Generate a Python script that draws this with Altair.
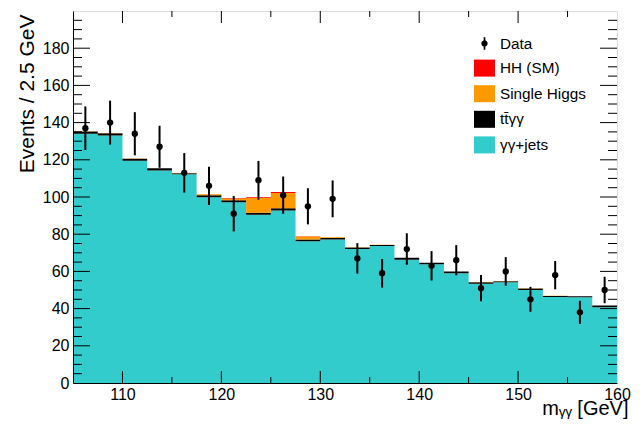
import altair as alt
import pandas as pd

# ---------------- data ----------------
bin_lo = [105.0, 107.5, 110.0, 112.5, 115.0, 117.5, 120.0, 122.5, 125.0, 127.5, 130.0,
          132.5, 135.0, 137.5, 140.0, 142.5, 145.0, 147.5, 150.0, 152.5, 155.0, 157.5]
bin_hi = [107.5, 110.0, 112.5, 115.0, 117.5, 120.0, 122.5, 125.0, 127.5, 130.0, 132.5,
          135.0, 137.5, 140.0, 142.5, 145.0, 147.5, 150.0, 152.5, 155.0, 157.5, 160.0]

gg_jets = [134.0, 133.1, 119.5, 114.3, 112.2, 99.9, 97.2, 90.5, 92.8, 76.2, 77.1,
           72.0, 73.6, 66.3, 63.8, 59.0, 53.4, 54.1, 50.0, 46.2, 46.1, 40.7]
tt_gg = [1.2, 1.2, 1.1, 1.1, 0.6, 1.0, 1.0, 1.0, 1.1, 1.0, 0.8,
         0.9, 0.6, 1.0, 0.8, 0.9, 0.8, 0.6, 0.8, 0.6, 0.5, 0.9]
single_higgs = [0.1, 0.1, 0.1, 0.1, 0.1, 0.6, 1.0, 8.0, 8.2, 1.6, 0.4,
                0.1, 0.1, 0.1, 0.1, 0.1, 0.1, 0.1, 0.1, 0.1, 0.1, 0.1]
hh_sm = [0.0, 0.0, 0.0, 0.0, 0.0, 0.0, 0.3, 0.4, 0.6, 0.1, 0.0,
         0.0, 0.0, 0.0, 0.0, 0.0, 0.0, 0.0, 0.0, 0.0, 0.0, 0.0]

data_counts = [137, 140, 134, 127, 113, 106, 91, 109, 101, 95, 99,
               67, 59, 72, 63, 66, 51, 60, 45, 58, 38, 50]
data_err = [11.7, 11.8, 11.6, 11.3, 10.6, 10.3, 9.5, 10.4, 10.0, 9.7, 9.9,
            8.2, 7.7, 8.5, 7.9, 8.1, 7.1, 7.7, 6.7, 7.6, 6.2, 7.1]

x_labels = [110, 120, 130, 140, 150, 160]
x_minor = [115, 125, 135, 145, 155]
x_major = [110, 120, 130, 140, 150]
y_labels = [0, 20, 40, 60, 80, 100, 120, 140, 160, 180]
y_major = [20, 40, 60, 80, 100, 120, 140, 160, 180]
y_minor = [5, 10, 15, 25, 30, 35, 45, 50, 55, 65, 70, 75, 85, 90, 95, 105, 110, 115,
           125, 130, 135, 145, 150, 155, 165, 170, 175, 185, 190, 195]

comp_names = ["Data", "HH (SM)", "Single Higgs", "tt\u0304γγ", "γγ+jets"]
comp_colors = ["#000000", "#ff0000", "#ff9900", "#000000", "#33cccc"]

# ---------------- tables ----------------
edges = bin_lo + [bin_hi[-1]]
stack_components = [("γγ+jets", gg_jets, 0), (comp_names[3], tt_gg, 1),
                    ("Single Higgs", single_higgs, 2), ("HH (SM)", hh_sm, 3)]
rows = []
for name, vals, order in stack_components:
    ext = vals + [vals[-1]]
    for x, v in zip(edges, ext):
        rows.append({"x": x, "val": v, "comp": name, "ord": order})
stack_df = pd.DataFrame(rows)

data_df = pd.DataFrame({"lo": bin_lo, "hi": bin_hi, "n": data_counts, "err": data_err})
data_df["xc"] = (data_df["lo"] + data_df["hi"]) / 2
data_df["ylo"] = data_df["n"] - data_df["err"]
data_df["yhi"] = data_df["n"] + data_df["err"]

legend_df = pd.DataFrame({"comp": comp_names})

W, H = 544, 372
FONT = "Liberation Sans"

xscale = alt.Scale(domain=[105, 160], nice=False, zero=False)
yscale = alt.Scale(domain=[0, 200], nice=False, zero=True)

color_scale = alt.Scale(domain=comp_names, range=comp_colors)
rect_path = "M-1,-0.81H1V0.81H-1Z"
data_path = ("M-0.08,-0.6H0.08V0.6H-0.08Z "
             "M0.3,0A0.3,0.3 0 1,1 -0.3,0A0.3,0.3 0 1,1 0.3,0Z")
shape_scale = alt.Scale(domain=comp_names,
                        range=[data_path, rect_path, rect_path, rect_path, rect_path])

xaxis = alt.Axis(values=x_labels, format="d", labelFontSize=16, labelPadding=3,
                 labelFont=FONT, labelColor="black", labelFlush=False, labelOverlap=False,
                 ticks=False, grid=False, domain=True, domainColor="black", domainWidth=1,
                 title="mᵧᵧ [GeV]", titleFont=FONT, titleFontSize=20,
                 titleFontWeight="normal", titleColor="black",
                 titleX=555, titleY=31.5, titleAlign="right", titleBaseline="alphabetic",
                 zindex=1)
yaxis = alt.Axis(values=y_labels, format="d", labelFontSize=16, labelPadding=4,
                 labelFont=FONT, labelColor="black", labelFlush=False, labelOverlap=False,
                 ticks=False, grid=False, domain=True, domainColor="black", domainWidth=1,
                 title="Events / 2.5 GeV", titleFont=FONT, titleFontSize=21,
                 titleFontWeight="normal", titleColor="black",
                 titleAngle=270, titleX=-40, titleY=3, titleAlign="right",
                 titleBaseline="alphabetic", zindex=1)

stack = alt.Chart(stack_df).mark_area(interpolate="step-after", opacity=1).encode(
    x=alt.X("x:Q", scale=xscale, axis=xaxis),
    y=alt.Y("val:Q", stack="zero", scale=yscale, axis=yaxis),
    color=alt.Color("comp:N", scale=color_scale),
    order=alt.Order("ord:Q", sort="ascending"),
)

errbars = alt.Chart(data_df).mark_rule(color="black", strokeWidth=2).encode(
    x=alt.X("xc:Q", scale=xscale),
    y=alt.Y("ylo:Q", scale=yscale),
    y2="yhi:Q",
)
points = alt.Chart(data_df).mark_circle(color="black", size=40, opacity=1).encode(
    x=alt.X("xc:Q", scale=xscale),
    y=alt.Y("n:Q", scale=yscale),
)

leg = alt.Legend(title=None, orient="none", legendX=401, legendY=22,
                 symbolSize=441, symbolStrokeWidth=0,
                 labelFont=FONT, labelFontSize=15.3, labelColor="black",
                 rowPadding=5.6, labelOffset=5, padding=0, symbolOpacity=1)

legend_layer = alt.Chart(legend_df).mark_point(filled=True, opacity=1, clip=True).encode(
    x=alt.value(-60),
    y=alt.value(-60),
    color=alt.Color("comp:N", scale=color_scale, legend=leg),
    shape=alt.Shape("comp:N", scale=shape_scale, legend=leg),
)

def ydf(vals):
    return pd.DataFrame({"v": vals})

tick_layers = []
for vals, L in [(y_major, 17), (y_minor, 9)]:
    tick_layers.append(alt.Chart(ydf(vals)).mark_rule(color="black", strokeWidth=1).encode(
        y=alt.Y("v:Q", scale=yscale), x=alt.value(0), x2=alt.value(L)))
    tick_layers.append(alt.Chart(ydf(vals)).mark_rule(color="black", strokeWidth=1).encode(
        y=alt.Y("v:Q", scale=yscale), x=alt.value(W), x2=alt.value(W - L)))
for vals, L in [(x_major, 12), (x_minor, 6)]:
    tick_layers.append(alt.Chart(ydf(vals)).mark_rule(color="black", strokeWidth=1).encode(
        x=alt.X("v:Q", scale=xscale), y=alt.value(H), y2=alt.value(H - L)))
    tick_layers.append(alt.Chart(ydf(vals)).mark_rule(color="black", strokeWidth=1).encode(
        x=alt.X("v:Q", scale=xscale), y=alt.value(0), y2=alt.value(L)))

chart = alt.layer(stack, *tick_layers, errbars, points, legend_layer).properties(
    width=W, height=H,
    autosize=alt.AutoSizeParams(type="none"),
    padding={"left": 65, "top": 3, "right": 15, "bottom": 36},
).configure_view(stroke="black", strokeWidth=1).configure(font=FONT)

chart.save("out.html", embed_options={"renderer": "svg", "actions": False})
